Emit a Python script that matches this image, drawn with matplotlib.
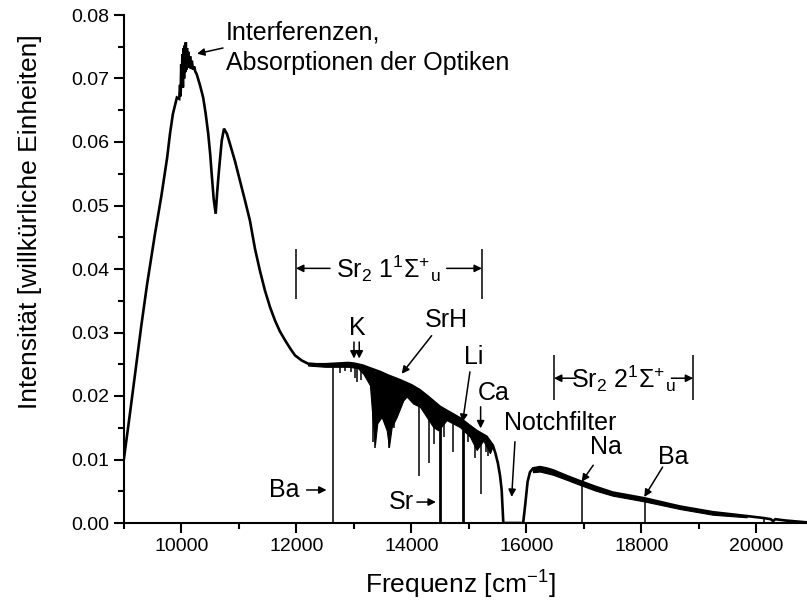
import numpy as np
import matplotlib
matplotlib.use("Agg")
import matplotlib.pyplot as plt
from matplotlib.ticker import MultipleLocator, FormatStrFormatter

plt.rcParams["font.family"] = ["Liberation Sans", "DejaVu Sans"]
plt.rcParams["mathtext.fontset"] = "custom"
plt.rcParams["mathtext.rm"] = "Liberation Sans"
plt.rcParams["mathtext.it"] = "Liberation Sans:italic"
plt.rcParams["mathtext.bf"] = "Liberation Sans:bold"

# spectrum, upper envelope
spec_freq = [
    9000, 9100, 9200, 9300, 9400, 9540, 9650, 9750, 9800, 9850, 9920, 9960,
    9975, 9985, 9995, 10005, 10015, 10025, 10035, 10045, 10055, 10065,
    10075, 10085, 10095, 10105, 10120, 10135, 10150, 10165, 10180, 10200,
    10220, 10240, 10264, 10320, 10377, 10420, 10465, 10500, 10525, 10560,
    10595, 10620, 10645, 10670, 10700, 10739, 10790, 10843, 10930, 11017,
    11104, 11191, 11278, 11365, 11452, 11540, 11626, 11710, 11800, 11890,
    11974, 12090, 12200, 12350, 12500, 12700, 12900, 13000, 13150, 13300,
    13452, 13600, 13800, 14000, 14148, 14300, 14496, 14650, 14843, 15000,
    15134, 15307, 15417, 15460, 15504, 15540, 15569, 15598, 15943, 15980,
    16020, 16061, 16113, 16235, 16350, 16461, 16700, 16930, 17200, 17500,
    18049, 18670, 19243, 19830, 20113, 20250, 20290, 20330, 20500, 20880,
]
spec_int = [
    0.0102, 0.0170, 0.0240, 0.0310, 0.0375, 0.0456, 0.0515, 0.0575, 0.0613,
    0.0644, 0.0670, 0.0668,
    0.0690, 0.0672, 0.0722, 0.0685, 0.0738, 0.0686, 0.0748, 0.0700, 0.0752,
    0.0710, 0.0757, 0.0714, 0.0748, 0.0720, 0.0742, 0.0717, 0.0735, 0.0715,
    0.0728, 0.0714, 0.0719, 0.0711, 0.0707, 0.0690, 0.0670, 0.0645, 0.0613,
    0.0580, 0.0550, 0.0510, 0.0487, 0.0520, 0.0548, 0.0573, 0.0602, 0.0621,
    0.0613, 0.0597, 0.0570, 0.0539, 0.0508, 0.0476, 0.0432, 0.0397, 0.0366,
    0.0340, 0.0319, 0.0302, 0.0288, 0.0275, 0.0264, 0.0256, 0.0251, 0.0250,
    0.0250, 0.0251, 0.0252, 0.0251, 0.0248, 0.0243, 0.0238, 0.0232, 0.0225,
    0.0217, 0.0209, 0.0198, 0.0183, 0.0175, 0.0165, 0.0154, 0.0145, 0.0136,
    0.0122, 0.0110, 0.0094, 0.0075, 0.0052, 0.0000, 0.0000, 0.0030, 0.0065,
    0.0080, 0.0086, 0.0088, 0.0086, 0.0083, 0.0074, 0.0066, 0.0057, 0.0048,
    0.0039, 0.0026, 0.0017, 0.0011, 0.0008, 0.0006, 0.0003, 0.0006, 0.0004,
    0.0001,
]

# dense SrH absorption band, lower edge of the black area
band_freq = [
    13047, 13162, 13278, 13325, 13365, 13405, 13482, 13569, 13609, 13656,
    13743, 13857, 13917, 14031, 14148, 14264, 14380, 14467, 14612, 14843,
    15017, 15134, 15249, 15365, 15417,
]
band_low = [
    0.0246, 0.0235, 0.0217, 0.0162, 0.0123, 0.0157, 0.0167, 0.0146, 0.0120,
    0.0151, 0.0167, 0.0193, 0.0199, 0.0188, 0.0183, 0.0167, 0.0151, 0.0146,
    0.0162, 0.0151, 0.0136, 0.0115, 0.0130, 0.0110, 0.0122,
]

# noisy, thick parts of the trace (plateau and tail)
plateau_freq = [12200, 12500, 12900, 13150]
plateau_low = [0.0248, 0.0246, 0.0246, 0.0243]
tail_freq = [16113, 16235, 16461, 16700, 16930, 17200, 17500, 18049, 18670, 19243, 19830]
tail_low = [0.0080, 0.0081, 0.0076, 0.0068, 0.0060, 0.0051, 0.0043, 0.0034, 0.0022, 0.0013, 0.0009]

# single absorption lines: position and lowest point
line_freq = [
    12636, 12760, 12850, 12940, 13010, 13045, 13130, 13330, 13365, 13610,
    13700, 14130, 14310, 14400, 14496, 14560, 14716, 14904, 14990, 15104,
    15210, 15290, 15340, 16300, 16380, 16450, 16960, 18060, 20130,
]
line_floor = [
    0.0000, 0.0236, 0.0240, 0.0238, 0.0228, 0.0222, 0.0225, 0.0128, 0.0118,
    0.0118, 0.0150, 0.0074, 0.0094, 0.0125, 0.0000, 0.0135, 0.0112, 0.0000,
    0.0128, 0.0102, 0.0046, 0.0112, 0.0105, 0.0081, 0.0080, 0.0078, 0.0000,
    0.0000, 0.0000,
]
thick_lines = [14496, 14904]


def arrow(ax, xy, xytext, lw=1.1):
    ax.annotate("", xy=xy, xytext=xytext,
                arrowprops=dict(arrowstyle="-|>", color="black", lw=lw,
                                mutation_scale=11, shrinkA=0, shrinkB=0))


def main():
    fig = plt.figure(figsize=(8.07, 6.09), dpi=100)
    ax = fig.add_axes([124 / 807, 1 - 523 / 609, 683 / 807, 508 / 609])

    ax.plot(spec_freq, spec_int, color="black", lw=1.9, solid_joinstyle="miter")

    band_top = np.interp(band_freq, spec_freq, spec_int)
    ax.fill_between(band_freq, band_low, band_top, color="black", lw=0.8)

    plateau_top = np.interp(plateau_freq, spec_freq, spec_int)
    ax.fill_between(plateau_freq, plateau_low, plateau_top, color="black", lw=0.8)

    tail_top = np.interp(tail_freq, spec_freq, spec_int)
    ax.fill_between(tail_freq, tail_low, tail_top, color="black", lw=0.8)

    line_top = np.interp(line_freq, spec_freq, spec_int)
    widths = [2.0 if f in thick_lines else 1.1 for f in line_freq]
    ax.vlines(line_freq, line_floor, line_top, color="black", lw=widths)

    ax.set_xlim(9000, 20880)
    ax.set_ylim(0, 0.08)
    ax.xaxis.set_major_locator(MultipleLocator(2000))
    ax.xaxis.set_minor_locator(MultipleLocator(1000))
    ax.yaxis.set_major_locator(MultipleLocator(0.01))
    ax.yaxis.set_minor_locator(MultipleLocator(0.005))
    ax.yaxis.set_major_formatter(FormatStrFormatter("%.2f"))
    ax.tick_params(which="both", direction="out", width=1.5, labelsize=14)
    ax.tick_params(which="major", length=7)
    ax.tick_params(which="minor", length=4)
    for side in ["top", "right"]:
        ax.spines[side].set_visible(False)
    for side in ["left", "bottom"]:
        ax.spines[side].set_linewidth(1.5)
    ax.patch.set_alpha(0)

    fig.text(460 / 807, 1 - 585 / 609, r"Frequenz [cm$^{-1}$]", fontsize=19,
             ha="center", va="center")
    fig.text(30 / 807, 1 - 222 / 609, "Intensität [willkürliche Einheiten]",
             fontsize=19, rotation=90, ha="center", va="center")

    fs = 18
    ax.text(10774, 0.0772, "Interferenzen,", fontsize=fs, va="center")
    ax.text(10774, 0.0725, "Absorptionen der Optiken", fontsize=fs, va="center")
    arrow(ax, (10270, 0.0739), (10722, 0.0748))

    # Sr2 1 1Sigma+u bracket
    ax.vlines([11991, 15226], 0.0352, 0.0432, color="black", lw=1.1)
    arrow(ax, (11991, 0.0401), (12583, 0.0401))
    arrow(ax, (15226, 0.0401), (14612, 0.0401))
    ax.text(13600, 0.0401, r"Sr$_2$ 1$^1\Sigma^{+}{}_{\mathrm{u}}$", fontsize=fs,
            ha="center", va="center")

    # Sr2 2 1Sigma+u bracket
    ax.vlines([16478, 18901], 0.0193, 0.0264, color="black", lw=1.1)
    arrow(ax, (16478, 0.0228), (16860, 0.0228))
    arrow(ax, (18901, 0.0228), (18520, 0.0228))
    ax.text(17690, 0.0228, r"Sr$_2$ 2$^1\Sigma^{+}{}_{\mathrm{u}}$", fontsize=fs,
            ha="center", va="center")

    ax.text(13052, 0.0307, "K", fontsize=fs, ha="center", va="center")
    arrow(ax, (13000, 0.0259), (13000, 0.0285))
    arrow(ax, (13092, 0.0259), (13092, 0.0285))

    ax.text(14612, 0.0319, "SrH", fontsize=fs, ha="center", va="center")
    arrow(ax, (13830, 0.0235), (14351, 0.0295))

    ax.text(15087, 0.0261, "Li", fontsize=fs, ha="center", va="center")
    arrow(ax, (14890, 0.0159), (15017, 0.0238))

    ax.text(15423, 0.0204, "Ca", fontsize=fs, ha="center", va="center")
    arrow(ax, (15203, 0.0149), (15203, 0.0183))

    ax.text(16583, 0.0157, "Notchfilter", fontsize=fs, ha="center", va="center")
    arrow(ax, (15743, 0.0041), (15800, 0.0128))

    ax.text(17380, 0.0120, "Na", fontsize=fs, ha="center", va="center")
    arrow(ax, (16960, 0.0065), (17162, 0.0091))

    ax.text(18553, 0.0104, "Ba", fontsize=fs, ha="center", va="center")
    arrow(ax, (18049, 0.0041), (18368, 0.0088))

    ax.text(12061, 0.0052, "Ba", fontsize=fs, ha="right", va="center")
    arrow(ax, (12523, 0.0052), (12177, 0.0052))

    ax.text(14043, 0.0033, "Sr", fontsize=fs, ha="right", va="center")
    arrow(ax, (14426, 0.0033), (14096, 0.0033))

    fig.savefig("out.png", dpi=100)
    plt.close(fig)


if __name__ == "__main__":
    main()
